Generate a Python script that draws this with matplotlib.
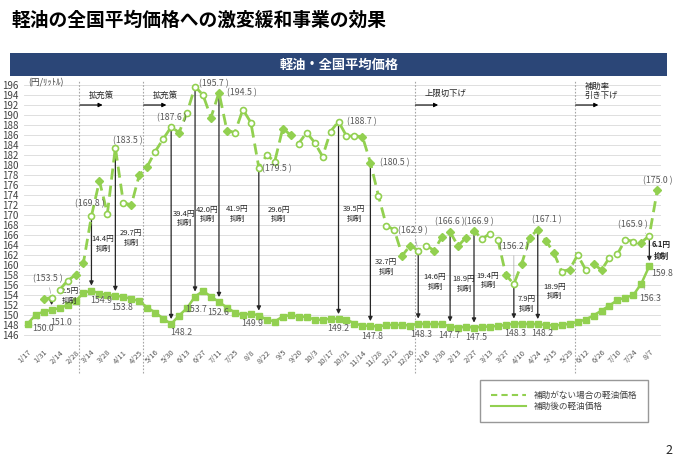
import matplotlib
matplotlib.use('Agg')
import matplotlib.pyplot as plt
from matplotlib.lines import Line2D
from matplotlib.patches import Rectangle

plt.rcParams['font.family'] = ['Noto Sans CJK JP', 'DejaVu Sans']

# weekly survey dates (label every second week)
date_labels = ['1/17', '1/31', '2/14', '2/28', '3/14', '3/28', '4/11', '4/25', '5/16', '5/30',
               '6/13', '6/27', '7/11', '7/25', '8/8', '8/22', '9/5', '9/20', '10/3', '10/17',
               '10/31', '11/14', '11/28', '12/12', '12/26', '1/16', '1/30', '2/13', '2/27', '3/13',
               '3/27', '4/10', '4/24', '5/15', '5/29', '6/12', '6/26', '7/10', '7/24', '8/7']

# price after subsidy (week 0 .. 78)
price_after = [148.3, 150.0, 150.7, 151.0, 151.4, 152.0, 152.8, 154.4, 154.9, 154.3,
               154.0, 153.8, 153.7, 153.2, 152.8, 151.5, 150.5, 149.3, 148.2, 149.9,
               151.4, 153.7, 154.8, 153.7, 152.6, 151.5, 150.5, 150.0, 150.3, 149.9,
               149.1, 148.7, 149.7, 150.0, 149.7, 149.6, 149.1, 149.0, 149.3, 149.2,
               149.1, 148.3, 147.9, 147.8, 147.7, 148.0, 148.0, 148.0, 147.9, 148.3,
               148.2, 148.2, 148.2, 147.7, 147.5, 147.6, 147.5, 147.6, 147.7, 147.8,
               148.0, 148.3, 148.3, 148.2, 148.2, 148.0, 147.9, 148.0, 148.3, 148.6,
               149.1, 149.9, 150.9, 151.9, 153.0, 153.5, 154.0, 156.3, 159.8]

# price without subsidy (week 2 .. 79)
without_start = 2
price_without = [153.2, 153.5, 155.0, 156.9, 158.0, 160.5, 169.8, 176.8, 170.3, 183.5,
                 172.5, 172.0, 178.0, 179.7, 182.7, 185.2, 187.6, 186.5, 190.5, 195.7,
                 194.0, 189.5, 194.5, 186.9, 186.5, 191.1, 188.5, 179.5, 182.0, 180.7,
                 187.3, 186.0, 184.3, 186.5, 184.5, 181.7, 186.7, 188.7, 185.8, 185.8,
                 185.7, 180.5, 173.9, 167.9, 167.0, 161.9, 163.9, 162.9, 163.9, 162.9,
                 165.7, 166.6, 163.8, 165.5, 166.9, 165.2, 166.3, 165.0, 158.0, 156.2,
                 160.3, 165.5, 167.1, 164.9, 162.5, 158.7, 159.1, 162.0, 159.1, 160.2,
                 159.0, 161.5, 162.2, 165.1, 164.7, 164.5, 165.9, 175.0]

# suppression amounts shown by the arrows
note_idx = [3, 8, 11, 18, 21, 24, 29, 39, 43, 49, 53, 56, 61, 64, 78]
note_amount = ['2.5', '14.4', '29.7', '39.4', '42.0', '41.9', '29.6', '39.5',
               '32.7', '14.6', '18.9', '19.4', '7.9', '18.9', '6.1']

policy_text = ['拡充策', '拡充策', '上限切下げ', '補助率\n引き下げ']

# ---- styling / layout ----
green = '#92D050'
marker_pattern = 'DoooDDoDoooDDDoooDoooDDDooooooDDooooooooDDoooDDooDDDDDDoooDoDDDDDoDooDDooooDoD'
policy_pos = [6.5, 14.5, 48.6, 68.7]

# label offsets in pixels: (dx, dy)
without_lab = {3: (-4, 18.5), 8: (-1.5, 12), 11: (12.6, 6.5), 18: (1, 9), 21: (19, 2.5),
               24: (23, 0), 29: (18, -1.5), 39: (23, 0), 43: (24, 0), 49: (-5, 20),
               53: (0, 10), 56: (5, 8.5), 61: (0, 37), 64: (9, 9.5), 78: (-17, 10.5), 79: (0, 9)}
after_lab = {1: (7, -13), 3: (9, -12), 8: (10, -9.5), 11: (6.5, -11), 18: (10, -8),
             21: (1, -12.5), 24: (-1, -10), 29: (-7, -7.5), 39: (0, -9), 43: (1.6, -10),
             49: (2.5, -10.5), 53: (-1, -9), 56: (1.7, -9.5), 61: (1, -10), 64: (4, -9.5),
             77: (8.5, -14.5), 78: (12.5, -7)}
leader_without = {3, 49, 61, 78}
leader_after = {1, 3, 77}
# note text: (dx pixels, y value)
note_pos = [(18, 153.8), (11.5, 164.2), (15.6, 165.4), (12.8, 169.3), (12, 170.1), (18, 170.2),
            (20, 170.1), (15.5, 170.2), (15.6, 159.6), (16.8, 156.6), (14, 156.2), (14, 156.9),
            (13, 152.2), (17, 154.7), (12, 162.9)]

fig = plt.figure(figsize=(6.8, 4.67), dpi=100)
W, H = 680, 467
ax = fig.add_axes([23.7 / W, (H - 340) / H, 637.6 / W, 260 / H])
ax.set_xlim(-0.5, 79.5)
ax.set_ylim(145, 197)
for s in ax.spines.values():
    s.set_visible(False)
ax.set_yticks(range(146, 197, 2))
ax.yaxis.grid(True, color='#D9D9D9', lw=0.6)
ax.set_axisbelow(True)
ax.tick_params(length=0)
ax.tick_params(axis='y', labelsize=7, labelcolor='#404040', pad=4)
ax.set_xticks(range(0, 80, 2))
ax.set_xticklabels(date_labels, rotation=45, ha='right', rotation_mode='anchor',
                   fontsize=5.5, color='#595959')
ax.tick_params(axis='x', pad=6)

x_after = list(range(len(price_after)))
x_without = list(range(without_start, without_start + len(price_without)))

# policy change lines
for i, (p, t) in enumerate(zip(policy_pos, policy_text)):
    ax.axvline(p, ymin=-0.125, ymax=1.0, color='#A6A6A6', ls=(0, (1.5, 1.5)), lw=0.8, clip_on=False)
    ty = 194.8 if '\n' in t else (194.4 if i == 2 else 194.0)
    ax.text(p + 1.2, ty, t, fontsize=6, color='#262626', va='center', ha='left', linespacing=1.1)
    ax.annotate('', xy=(p + 2.9, 192), xytext=(p + 0.05, 192),
                arrowprops=dict(arrowstyle='-|>', color='black', lw=0.8, mutation_scale=6,
                                shrinkA=0, shrinkB=0))

# lines
ax.plot(x_without, price_without, color=green, lw=2, ls=(0, (4, 2.2)), zorder=3)
ax.plot(x_after, price_after, color=green, lw=1.8, marker='s', ms=4.3, zorder=3)
for x, v, m in zip(x_without, price_without, marker_pattern):
    if m == 'o':
        ax.plot(x, v, marker='o', ms=4.3, mfc='white', mec=green, mew=1.2, zorder=4)
    else:
        ax.plot(x, v, marker='D', ms=4, color=green, zorder=4)

# value labels
lab_kw = dict(textcoords='offset pixels', ha='center', va='center', color='#595959', fontsize=6.3)
for i, (dx, dy) in without_lab.items():
    v = price_without[i - without_start]
    ap = dict(arrowstyle='-', color='#A6A6A6', lw=0.5, shrinkA=1, shrinkB=3) if i in leader_without else None
    ax.annotate(f'({v:.1f} )', xy=(i, v), xytext=(dx, dy), arrowprops=ap, zorder=5, **lab_kw)
for i, (dx, dy) in after_lab.items():
    v = price_after[i]
    ap = dict(arrowstyle='-', color='#A6A6A6', lw=0.5, shrinkA=1, shrinkB=3) if i in leader_after else None
    ax.annotate(f'{v:.1f}', xy=(i, v), xytext=(dx, dy), arrowprops=ap, zorder=5, **lab_kw)

# suppression arrows and notes
for i, amt, (dx, ty) in zip(note_idx, note_amount, note_pos):
    top = price_without[i - without_start]
    bot = price_after[i]
    ax.annotate('', xy=(i, bot), xytext=(i, top),
                arrowprops=dict(arrowstyle='-|>', color='#262626', lw=0.9, mutation_scale=6,
                                shrinkA=3, shrinkB=3.5), zorder=2)
    bold = 'bold' if i == note_idx[-1] else 'normal'
    ax.annotate(f'{amt}円\n抑制', xy=(i, ty), xytext=(dx, 0), textcoords='offset pixels',
                ha='center', va='center', fontsize=5.5, color='#262626', fontweight=bold,
                linespacing=1.3)

# unit label
fig.text(28 / W, 1 - 83 / H, '(円/ﾘｯﾄﾙ)', fontsize=6.3, color='#404040', va='center')

# title and banner
fig.text(12 / W, 1 - 20 / H, '軽油の全国平均価格への激変緩和事業の効果', fontsize=13.5,
         fontweight='bold', va='center', ha='left', color='black')
fig.patches.append(Rectangle((10 / W, 1 - 76 / H), 657 / W, 23 / H, transform=fig.transFigure,
                             facecolor='#2B4677', edgecolor='none'))
fig.text(339 / W, 1 - 64.5 / H, '軽油・全国平均価格', fontsize=9.5, fontweight='bold',
         color='white', ha='center', va='center')

# legend
handles = [Line2D([], [], color=green, lw=1.5, ls=(0, (3, 2))),
           Line2D([], [], color=green, lw=1.5)]
fig.legend(handles, ['補助がない場合の軽油価格', '補助後の軽油価格'], loc='upper left',
           bbox_to_anchor=(480 / W, 1 - 380 / H), borderaxespad=0, fontsize=6.2,
           frameon=True, fancybox=False, edgecolor='#7F7F7F', handlelength=4.0,
           handletextpad=0.9, borderpad=1.3, labelspacing=0.2, labelcolor='#404040')

fig.text(672 / W, 1 - 450 / H, '2', fontsize=9, ha='right', va='center', color='#262626')

fig.savefig('out.png', dpi=100)
